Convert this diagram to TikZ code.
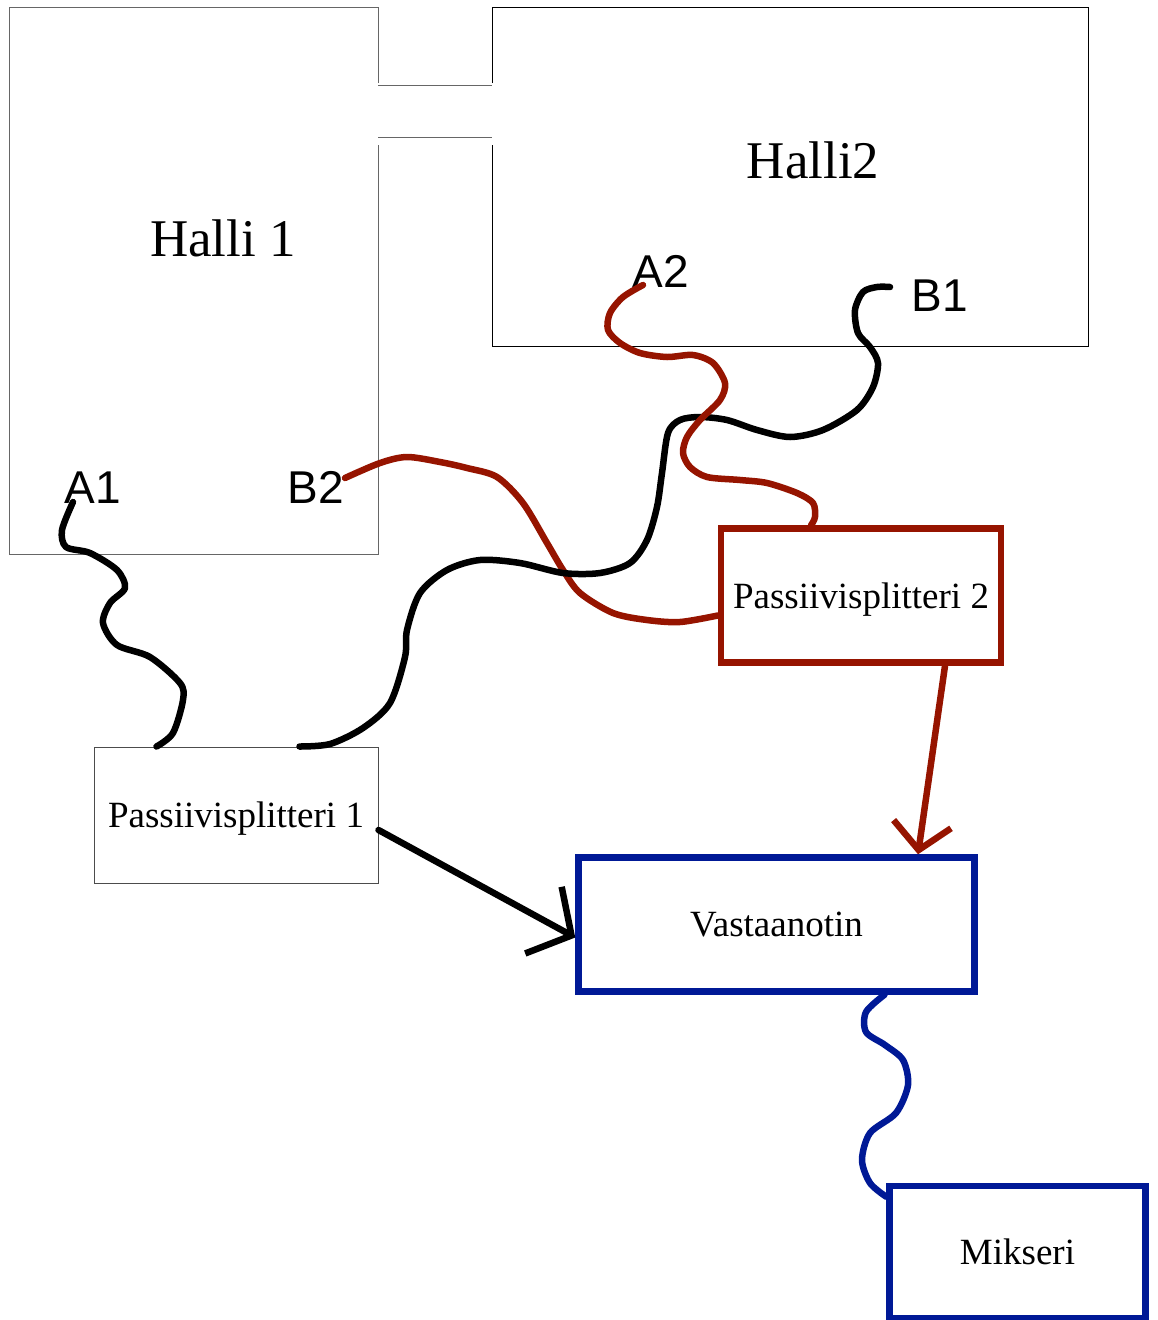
\documentclass[tikz,border=0pt]{standalone}
\usepackage{fontspec}
\setmainfont{Liberation Serif}
\newfontfamily\labelfont{Liberation Sans}
\usepackage{tikz}
\usetikzlibrary{arrows.meta}
\definecolor{cablered}{RGB}{150,20,0}
\definecolor{cableblue}{RGB}{0,25,150}
\tikzstyle{wall} = [line width = 1pt, draw = black!60]
\tikzstyle{hallname} = [inner sep = 0pt, font = \fontsize{53}{60}\selectfont]
\tikzstyle{port} = [inner sep = 0pt, font = \labelfont\fontsize{46}{52}\selectfont]
\tikzstyle{box} = [rectangle, inner sep = 0pt, text depth = 0pt, text centered, font = \fontsize{37}{43}\selectfont]
\tikzstyle{cable} = [line width = 6.5pt, line cap = round, line join = round]

\begin{document}
\begin{tikzpicture}[x = 1pt, y = -1pt]
	\useasboundingbox (0,0) rectangle (1157,1320);

	\draw [wall] (378,83) -- (378,7) -- (9,7) -- (9,554) -- (378,554) -- (378,145);
	\draw [wall] (378,85) -- (492,85);
	\draw [wall] (378,137) -- (492,137);
	\draw [wall, draw = black] (492,83) -- (492,7) -- (1088,7) -- (1088,346) -- (492,346) -- (492,145);

	\node (halli1)[hallname] at (223,238) {Halli 1};
	\node (halli2)[hallname] at (813,160) {Halli2};
	\node (A1)[port] at (93,488) {A1};
	\node (B2)[port] at (316,487) {B2};
	\node (A2)[port] at (661,271) {A2};
	\node (B1)[port] at (940,296) {B1};

	\node (ps1)[box, draw = black!70, line width = 1pt, minimum width = 284pt, minimum height = 136pt] at (236,815) {Passiivisplitteri 1};
	\node (ps2)[box, draw = cablered, line width = 6.5pt, minimum width = 280pt, minimum height = 134pt] at (861,595.5) {Passiivisplitteri 2};
	\node (vast)[box, draw = cableblue, line width = 6.5pt, minimum width = 396pt, minimum height = 134pt] at (776.5,924.5) {Vastaanotin};
	\node (mix)[box, draw = cableblue, line width = 6.5pt, minimum width = 256pt, minimum height = 132pt] at (1017.5,1252) {Mikseri};

	\coordinate (a1end) at (73,502);
	\coordinate (b2end) at (345,478);
	\coordinate (a2end) at (643,285);
	\coordinate (b1end) at (890,287);
	\coordinate (ps1a) at ([xshift = 63pt]ps1.north west);
	\coordinate (ps1b) at ([xshift = 206pt]ps1.north west);
	\coordinate (ps2a) at ([yshift = -20pt]ps2.west);
	\coordinate (ps2b) at ([xshift = -50pt]ps2.north);
	\coordinate (vasta) at ([xshift = 108pt]vast.south);
	\coordinate (mixa) at ([yshift = -14pt]mix.north west);

	\draw [cable] plot [smooth] coordinates {(a1end) (62,530) (66,547) (90,553) (117,570) (125,588) (110,603) (103,623) (117,645) (150,657) (180,683) (183,700) (173,733) (ps1a)};
	\draw [cable, cablered] plot [smooth] coordinates {(b2end) (380,463) (407,457) (440,462) (467,468) (497,477) (523,503) (547,543) (563,570) (580,593) (613,613) (647,620) (680,622) (ps2a)};
	\draw [cable] plot [smooth] coordinates {(ps1b) (330,744) (363,728) (390,703) (405,657) (407,630) (420,593) (447,570) (480,560) (520,563) (563,573) (600,573) (630,563) (647,540) (657,507) (662,473) (668,433) (680,420) (700,417) (727,420) (757,430) (790,437) (823,430) (857,410) (873,387) (878,363) (870,347) (858,333) (855,310) (863,292) (877,287) (b1end)};
	\draw [cable, cablered] plot [smooth] coordinates {(a2end) (623,297) (610,313) (608,330) (620,343) (640,353) (667,357) (693,355) (713,363) (725,383) (720,400) (700,420) (687,437) (683,453) (690,467) (707,477) (740,480) (767,483) (797,493) (813,503) (815,517) (ps2b)};
	\draw [cable, cableblue] plot [smooth] coordinates {(vasta) (866,1012) (866,1032) (885,1045) (903,1060) (908,1085) (896,1113) (870,1133) (862,1160) (870,1183) (mixa)};

	\draw [cable, -{Straight Barb[length = 32pt, width = 76pt]}] ([yshift = -15pt]ps1.east) -- ([yshift = -13pt]vast.west);
	\draw [cable, cablered, -{Straight Barb[length = 26pt, width = 58pt]}] ([xshift = 84pt]ps2.south) -- ([xshift = 141.5pt]vast.north);
\end{tikzpicture}
\end{document}
